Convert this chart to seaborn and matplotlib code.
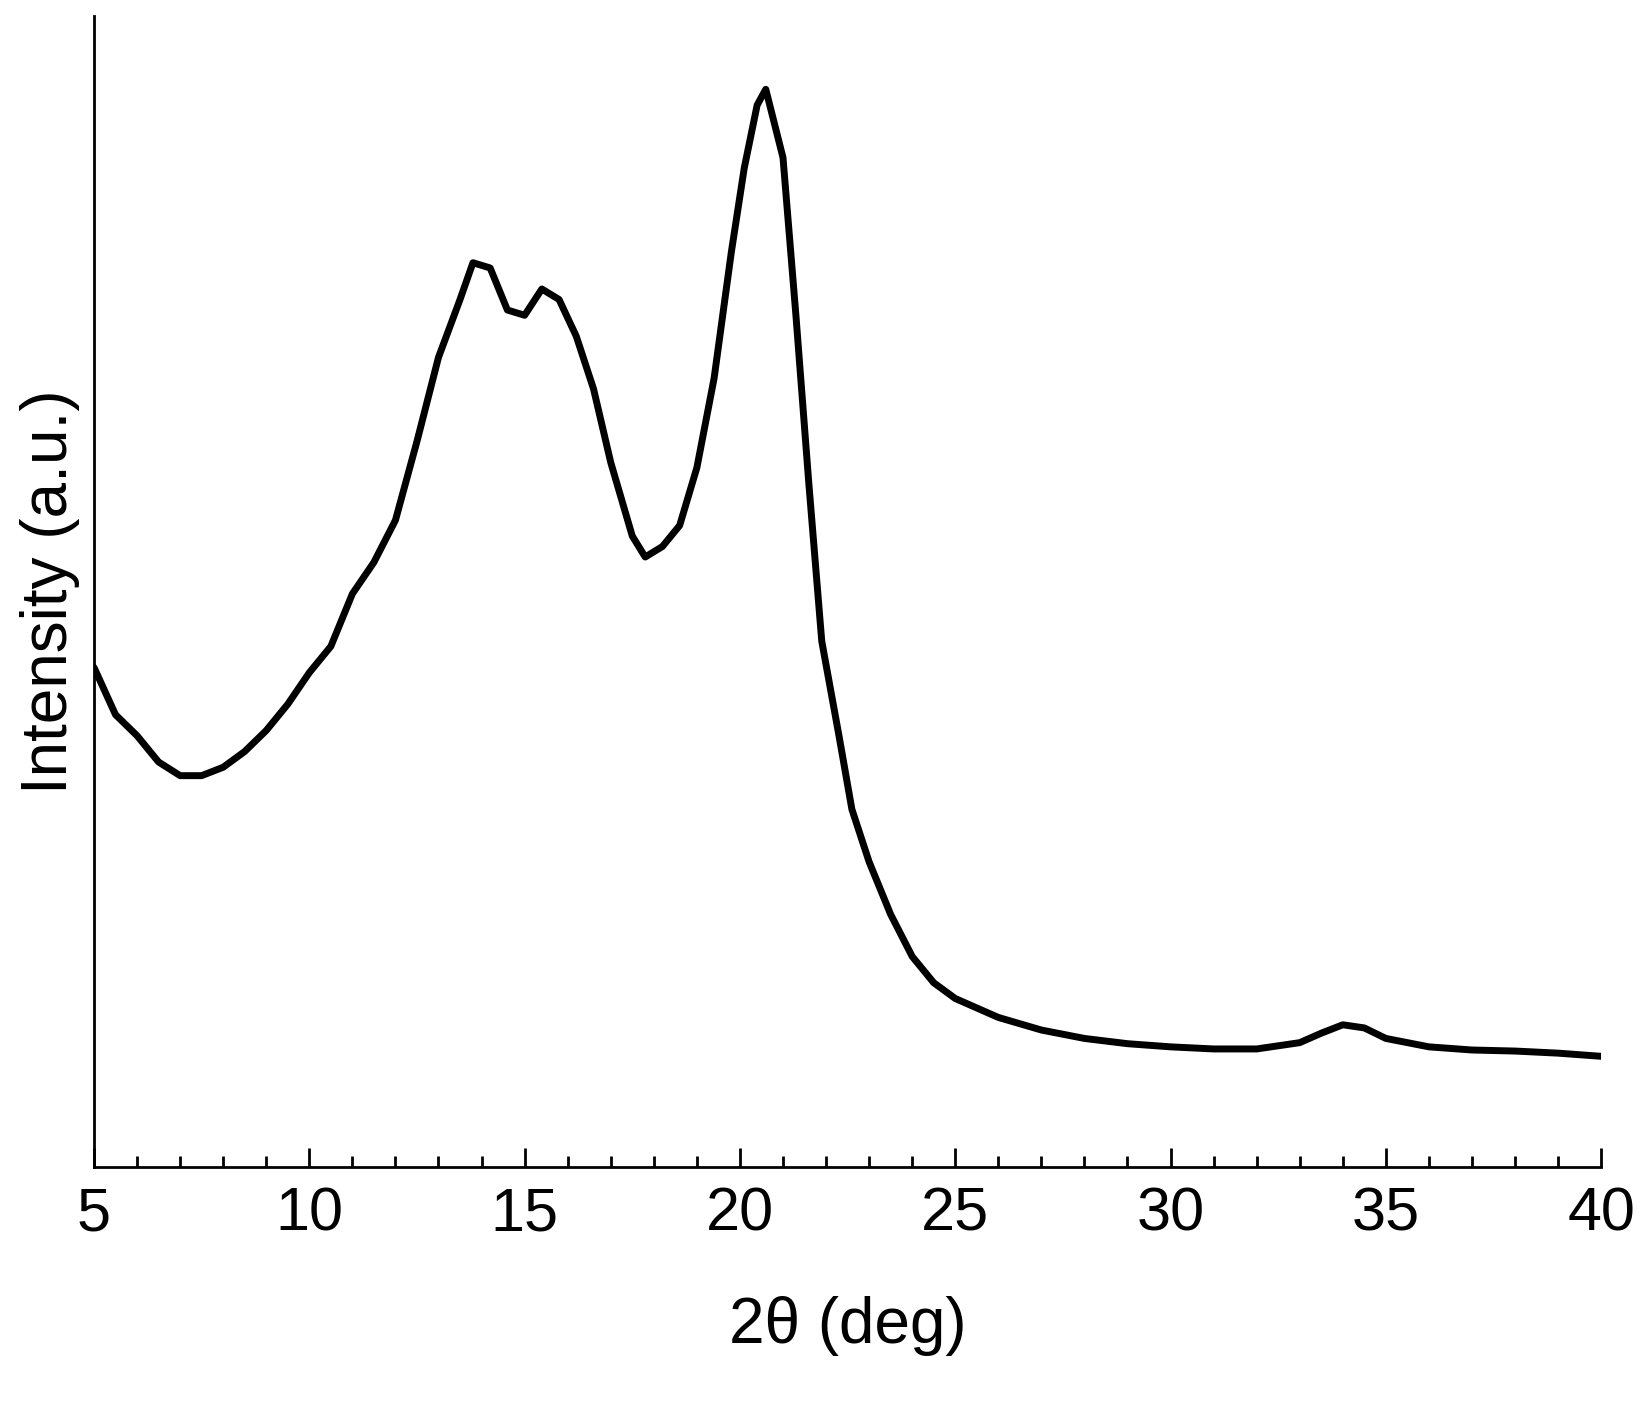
import matplotlib
matplotlib.use("Agg")
import matplotlib.pyplot as plt
import seaborn as sns
import pandas as pd
from matplotlib.ticker import MultipleLocator

two_theta = [5, 5.5, 6, 6.5, 7, 7.5, 8, 8.5, 9, 9.5, 10, 10.5, 11, 11.5, 12, 12.5, 13, 13.5, 13.8,
             14.2, 14.6, 15, 15.4, 15.8, 16.2, 16.6, 17, 17.5, 17.8, 18.2, 18.6, 19, 19.4, 19.8,
             20.1, 20.4, 20.6, 21, 21.3, 21.6, 21.9, 22.3, 22.6, 23, 23.5, 24, 24.5, 25, 26, 27,
             28, 29, 30, 31, 32, 33, 33.5, 34, 34.5, 35, 36, 37, 38, 39, 40]
intensity = [475, 430, 410, 385, 372, 372, 380, 395, 415, 440, 470, 495, 545, 575, 615, 690, 770,
             825, 860, 855, 815, 810, 835, 825, 790, 740, 670, 600, 580, 590, 610, 665, 750, 870,
             950, 1010, 1025, 960, 810, 650, 500, 410, 340, 290, 240, 200, 175, 160, 142, 130,
             122, 117, 114, 112, 112, 118, 127, 135, 132, 122, 114, 111, 110, 108, 105]

sns.set_style("white")
plt.rcParams['font.family'] = ['Liberation Sans', 'DejaVu Sans']
plt.rcParams['text.color'] = 'black'
plt.rcParams['axes.labelcolor'] = 'black'
plt.rcParams['xtick.color'] = 'black'

df = pd.DataFrame({"x": two_theta, "y": intensity})
fig = plt.figure(figsize=(16.49, 14.28), dpi=100)
ax = fig.add_axes([0.057, 0.183, 0.914, 0.806])
sns.lineplot(data=df, x="x", y="y", ax=ax, color="black", linewidth=5)
ax.set_xlim(5, 40)
ax.set_ylim(0, 1095)
ax.set_yticks([])
ax.xaxis.set_major_locator(MultipleLocator(5))
ax.xaxis.set_minor_locator(MultipleLocator(1))
ax.tick_params(axis="x", which="major", direction="in", length=14, width=2, labelsize=44, pad=14, bottom=True, labelcolor="black")
ax.tick_params(axis="x", which="minor", direction="in", length=8, width=2, bottom=True)
for s in ["top", "right"]:
    ax.spines[s].set_visible(False)
for s in ["left", "bottom"]:
    ax.spines[s].set_linewidth(2)
    ax.spines[s].set_color("black")
ax.set_xlabel("2θ (deg)", fontsize=46, labelpad=38, color="black")
ax.set_ylabel("Intensity (a.u.)", fontsize=46, labelpad=10, color="black")
fig.savefig("out.png", dpi=100)
